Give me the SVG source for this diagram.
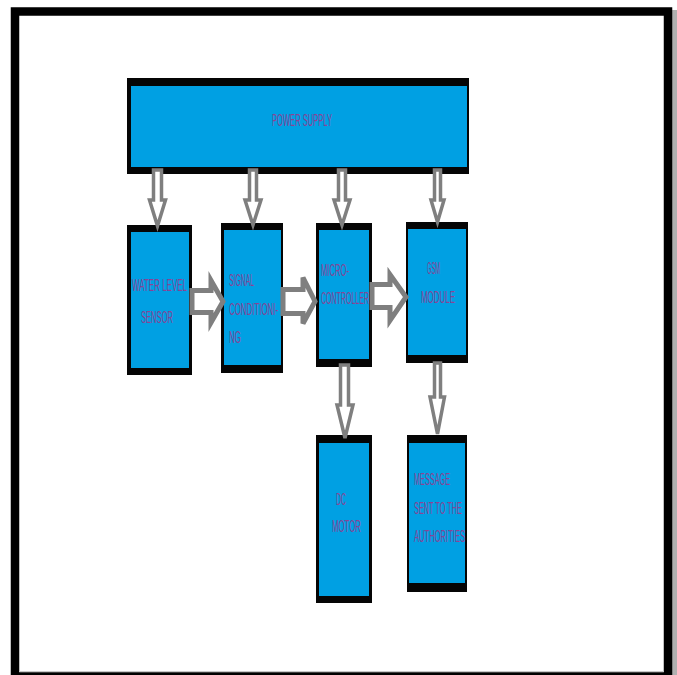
<svg xmlns="http://www.w3.org/2000/svg" width="677" height="675" viewBox="0 0 677 675">
<style>
.bd{fill:#050505}
.bl{fill:#00a0e3}
.t{font-family:"Liberation Sans",Arial,sans-serif;font-size:16px;fill:#874596}
.ar{fill:#ffffff;stroke:#7f7f7f;stroke-width:3.5;stroke-linejoin:miter}
.arw{fill:#ffffff;stroke:#7f7f7f;stroke-width:5;stroke-linejoin:miter}
</style>
<rect x="0" y="0" width="677" height="675" fill="#ffffff"/>
<rect x="672" y="10" width="5" height="665" fill="#b0b0b0"/>
<rect id="frame" x="15" y="11.5" width="653" height="665" fill="none" stroke="#000" stroke-width="8.5"/>
<line x1="19" y1="671.5" x2="664" y2="671.5" stroke="#c8c8c8" stroke-width="1"/>

<g id="power-supply">
<rect class="bd" x="127" y="78" width="342" height="96"/>
<rect class="bl" x="131" y="86" width="336" height="81"/>
<text class="t" x="272" y="125.5" textLength="60" lengthAdjust="spacingAndGlyphs">POWER SUPPLY</text>
</g>

<g id="water-level-sensor">
<rect class="bd" x="127" y="225" width="65" height="150"/>
<rect class="bl" x="131" y="232" width="58" height="136"/>
<text class="t" x="132" y="291" textLength="55" lengthAdjust="spacingAndGlyphs">WATER LEVEL</text>
<text class="t" x="141" y="323" textLength="32" lengthAdjust="spacingAndGlyphs">SENSOR</text>
</g>

<g id="signal-conditioning">
<rect class="bd" x="221" y="223" width="62" height="150"/>
<rect class="bl" x="224" y="230" width="57" height="135"/>
<text class="t" x="229" y="286" textLength="25" lengthAdjust="spacingAndGlyphs">SIGNAL</text>
<text class="t" x="229" y="314.5" textLength="49" lengthAdjust="spacingAndGlyphs">CONDITIONI-</text>
<text class="t" x="229" y="343" textLength="12" lengthAdjust="spacingAndGlyphs">NG</text>
</g>

<g id="micro-controller">
<rect class="bd" x="316" y="223" width="56" height="144"/>
<rect class="bl" x="319" y="230" width="50" height="129"/>
<text class="t" x="321" y="276" textLength="28" lengthAdjust="spacingAndGlyphs">MICRO-</text>
<text class="t" x="321" y="303.5" textLength="48" lengthAdjust="spacingAndGlyphs">CONTROLLER</text>
</g>

<g id="gsm-module">
<rect class="bd" x="406" y="222" width="62" height="141"/>
<rect class="bl" x="408" y="229" width="58" height="126"/>
<text class="t" x="427" y="274" textLength="13" lengthAdjust="spacingAndGlyphs">GSM</text>
<text class="t" x="421" y="302.5" textLength="34" lengthAdjust="spacingAndGlyphs">MODULE</text>
</g>

<g id="dc-motor">
<rect class="bd" x="316" y="435" width="56" height="168"/>
<rect class="bl" x="319" y="443" width="50" height="153"/>
<text class="t" x="336" y="504.5" textLength="10" lengthAdjust="spacingAndGlyphs">DC</text>
<text class="t" x="332" y="531.5" textLength="29" lengthAdjust="spacingAndGlyphs">MOTOR</text>
</g>

<g id="message">
<rect class="bd" x="407" y="435" width="60" height="157"/>
<rect class="bl" x="409" y="443" width="56" height="140"/>
<text class="t" x="414" y="484.5" textLength="36" lengthAdjust="spacingAndGlyphs">MESSAGE</text>
<text class="t" x="414" y="513.5" textLength="48" lengthAdjust="spacingAndGlyphs">SENT TO THE</text>
<text class="t" x="414" y="541.5" textLength="51" lengthAdjust="spacingAndGlyphs">AUTHORITIES</text>
</g>

<g id="connectors">
<path class="ar" d="M153.5,170 L153.5,200 L149.5,200 L157.5,226 L165.5,200 L161.5,200 L161.5,170 Z"/>
<path class="ar" d="M249.5,170 L249.5,200 L245,200 L253,225 L261,200 L256.5,200 L256.5,170 Z"/>
<path class="ar" d="M338.5,170 L338.5,200 L334,200 L342,225 L350,200 L345.5,200 L345.5,170 Z"/>
<path class="ar" d="M434.5,170 L434.5,200 L431,200 L437.5,222 L444,200 L440.5,200 L440.5,170 Z"/>
<path class="arw" d="M192,290.5 L211,290.5 L211,280.5 L223,301.5 L211,322.5 L211,312.5 L192,312.5 Z"/>
<path class="arw" d="M283,289.5 L303,289.5 L303,277.5 L315,301.5 L303,323.5 L303,313.5 L283,313.5 Z"/>
<path class="arw" d="M372,284.5 L390,284.5 L390,274.5 L406,297 L390,320.5 L390,307.5 L372,307.5 Z"/>
<path class="ar" d="M340.5,365 L340.5,405 L337,405 L345,438 L353,405 L348.5,405 L348.5,365 Z"/>
<path class="ar" d="M434.5,363 L434.5,397 L430,397 L437.5,434 L444.5,397 L440.5,397 L440.5,363 Z"/>
</g>
</svg>
